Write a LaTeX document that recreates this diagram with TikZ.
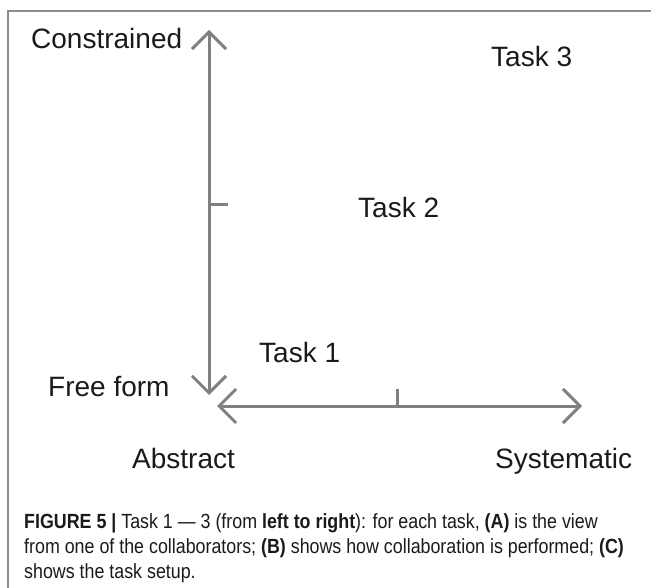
\documentclass[tikz,border=0pt]{standalone}
\usepackage{fontspec}
\setmainfont{Liberation Sans}
\newfontfamily\capfont[FakeStretch=0.87]{Liberation Sans}
\usetikzlibrary{arrows.meta}
\definecolor{axisgray}{HTML}{808080}
\definecolor{framegray}{HTML}{8C8C8C}
\definecolor{textblack}{HTML}{1A1A1A}
\tikzset{
  axisline/.style={draw=axisgray, line width=3pt, line cap=round,
    {Straight Barb[length=17pt,width=34pt,line width=3pt]}-{Straight Barb[length=17pt,width=34pt,line width=3pt]}},
  tickline/.style={draw=axisgray, line width=3pt},
  lbl/.style={anchor=base west, inner sep=0pt, font=\fontsize{28}{32}\selectfont, text=textblack},
  caption/.style={anchor=base west, inner sep=0pt, font=\capfont\fontsize{20.5}{24}\selectfont, text=textblack},
}
\begin{document}
\begin{tikzpicture}[x=1pt,y=-1pt]
\useasboundingbox (0,0) rectangle (651,588);
% frame
\coordinate (fbl) at (8,588);
\coordinate (ftl) at (8,11);
\coordinate (ftr) at (651,11);
\draw[framegray, line width=1.5pt] (fbl) -- (ftl) -- (ftr);
% axes
\coordinate (vtop) at (209,30);
\coordinate (vbot) at (209,395);
\coordinate (hleft) at (217,406);
\coordinate (hright) at (582,406);
\draw[axisline] (vbot) -- (vtop);
\draw[axisline] (hleft) -- (hright);
% ticks
\coordinate (vt0) at (209,205);
\coordinate (vt1) at (228,205);
\coordinate (ht0) at (397,406);
\coordinate (ht1) at (397,389);
\draw[tickline] (vt0) -- (vt1);
\draw[tickline] (ht0) -- (ht1);
% labels
\node[lbl] (constrained) at (31,49) {Constrained};
\node[lbl] (freeform) at (48,396) {Free form};
\node[lbl] (abstract) at (132,468) {Abstract};
\node[lbl] (systematic) at (495,468) {Systematic};
\node[lbl] (task1) at (259,362) {Task 1};
\node[lbl] (task2) at (358,218) {Task 2};
\node[lbl] (task3) at (491,67) {Task 3};
% caption
\node[caption] (cap1) at (24,528) {\textbf{FIGURE 5 |} Task 1 — 3 (from \textbf{left to right}): for each task, \textbf{(A)} is the view};
\node[caption] (cap2) at (24,553) {from one of the collaborators; \textbf{(B)} shows how collaboration is performed; \textbf{(C)}};
\node[caption] (cap3) at (24,578) {shows the task setup.};
\end{tikzpicture}
\end{document}
